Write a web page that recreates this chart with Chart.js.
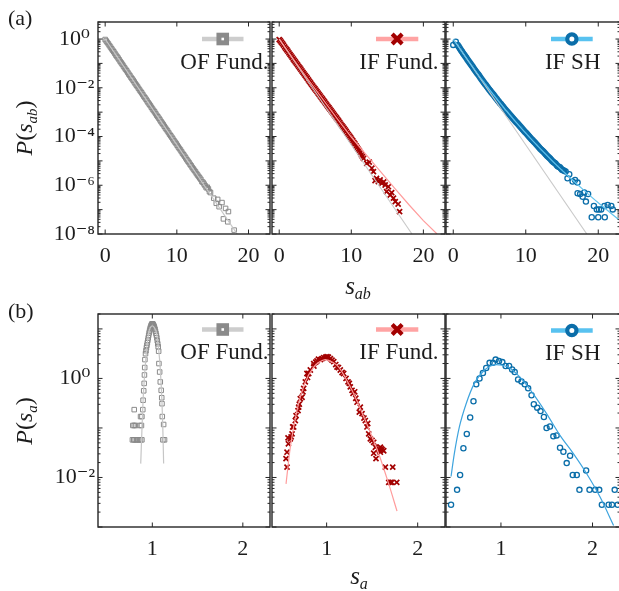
<!DOCTYPE html>
<html>
<head>
<meta charset="utf-8">
<script src="https://cdn.jsdelivr.net/npm/chart.js@4.4.1/dist/chart.umd.min.js"></script>
<style>
html, body { margin: 0; padding: 0; background: #ffffff; overflow: hidden; }
#wrap { position: relative; width: 619px; height: 591px; overflow: hidden; background: #fff; }
#wrap canvas { position: absolute; left: 0; top: 0; }
</style>
</head>
<body>
<div id="wrap">
  <canvas id="a1" width="640" height="591"></canvas>
  <canvas id="a2" width="640" height="591"></canvas>
  <canvas id="a3" width="640" height="591"></canvas>
  <canvas id="b1" width="640" height="591"></canvas>
  <canvas id="b2" width="640" height="591"></canvas>
  <canvas id="b3" width="640" height="591"></canvas>
</div>
<script>
// ===================== DATA (probabilities stored as log10 P) =====================
const seriesNames = ['OF Fund.', 'IF Fund.', 'IF SH'];

// (a) tick marks / labels
const abXTicks = [0, 10, 20];
const abYTicks = [1e-8, 1e-6, 1e-4, 1e-2, 1];
const abYTickLabels = ['10⁻⁸', '10⁻⁶', '10⁻⁴', '10⁻²', '10⁰'];
// (b) tick marks / labels
const aXTicks = [1, 2];
const aYTicks = [1e-2, 1];
const aYTickLabels = ['10⁻²', '10⁰'];

// (a) reference exponential (light grey line)
const refS = [0, 18.42];
const refLogP = [0, -8];

// (a) OF Fund. points
const ofAbS = [0.00,0.15,0.30,0.45,0.60,0.75,0.90,1.05,1.20,1.35,1.50,1.65,1.80,1.95,2.10,2.25,2.40,2.55,2.70,2.85,
  3.00,3.15,3.30,3.45,3.60,3.75,3.90,4.05,4.20,4.35,4.50,4.65,4.80,4.95,5.10,5.25,5.40,5.55,5.70,5.85,
  6.00,6.15,6.30,6.45,6.60,6.75,6.90,7.05,7.20,7.35,7.50,7.65,7.80,7.95,8.10,8.25,8.40,8.55,8.70,8.85,
  9.00,9.15,9.30,9.45,9.60,9.75,9.90,10.05,10.20,10.35,10.50,10.65,10.80,10.95,11.10,11.25,11.40,11.55,11.70,11.85,
  12.00,12.15,12.30,12.45,12.60,12.75,12.90,13.05,13.20,13.35,13.50,13.65,13.80,13.95,14.10,14.25,14.40,14.55,14.70,
  15.15,15.5,15.7,15.9,16.3,16.5,16.8,17.1,17.2,18.0];
const ofAbLogP = [-0.02,-0.08,-0.14,-0.20,-0.27,-0.33,-0.40,-0.46,-0.52,-0.59,-0.66,-0.72,-0.78,-0.85,-0.92,-0.98,-1.04,-1.11,-1.18,-1.24,
  -1.30,-1.37,-1.44,-1.50,-1.57,-1.63,-1.69,-1.76,-1.83,-1.89,-1.95,-2.02,-2.09,-2.15,-2.21,-2.28,-2.35,-2.41,-2.47,-2.54,
  -2.61,-2.67,-2.73,-2.80,-2.87,-2.93,-2.99,-3.06,-3.13,-3.19,-3.25,-3.32,-3.39,-3.45,-3.51,-3.58,-3.65,-3.71,-3.77,-3.84,
  -3.91,-3.97,-4.03,-4.10,-4.17,-4.23,-4.29,-4.36,-4.43,-4.49,-4.55,-4.62,-4.69,-4.75,-4.81,-4.88,-4.95,-5.01,-5.07,-5.14,
  -5.20,-5.27,-5.33,-5.39,-5.45,-5.52,-5.58,-5.64,-5.70,-5.76,-5.85,-5.88,-5.95,-6.02,-6.10,-6.08,-6.15,-6.26,-6.30,
  -6.53,-6.74,-6.58,-6.88,-6.71,-7.38,-6.95,-7.50,-7.08,-7.84];

// (a) IF Fund. points and fit
const ifAbS = [0.00,0.15,0.30,0.45,0.60,0.75,0.90,1.05,1.20,1.35,1.50,1.65,1.80,1.95,2.10,2.25,2.40,2.55,2.70,2.85,
  3.00,3.15,3.30,3.45,3.60,3.75,3.90,4.05,4.20,4.35,4.50,4.65,4.80,4.95,5.10,5.25,5.40,5.55,5.70,5.85,
  6.00,6.15,6.30,6.45,6.60,6.75,6.90,7.05,7.20,7.35,7.50,7.65,7.80,7.95,8.10,8.25,8.40,8.55,8.70,8.85,
  9.00,9.15,9.30,9.45,9.60,9.75,9.90,10.05,10.20,10.35,10.50,10.65,10.80,10.95,11.10,11.25,11.40,11.55,11.70,
  12.15,12.5,12.85,13.07,13.3,13.5,13.76,14.0,14.23,14.5,
  14.7,14.9,15.15,15.4,15.6,15.85,16.1,16.5,16.7];
const ifAbLogP = [-0.02,-0.07,-0.13,-0.19,-0.25,-0.32,-0.38,-0.44,-0.50,-0.57,-0.63,-0.69,-0.75,-0.82,-0.88,-0.94,-1.00,-1.06,-1.12,-1.18,
  -1.24,-1.31,-1.37,-1.43,-1.49,-1.55,-1.61,-1.68,-1.74,-1.80,-1.86,-1.92,-1.98,-2.04,-2.10,-2.16,-2.22,-2.28,-2.34,-2.40,
  -2.46,-2.52,-2.58,-2.64,-2.70,-2.76,-2.82,-2.88,-2.94,-3.00,-3.06,-3.12,-3.18,-3.24,-3.30,-3.36,-3.42,-3.49,-3.55,-3.61,
  -3.67,-3.73,-3.79,-3.86,-3.92,-3.98,-4.04,-4.11,-4.17,-4.24,-4.30,-4.38,-4.45,-4.52,-4.58,-4.66,-4.75,-4.82,-4.90,
  -5.10,-5.05,-5.30,-5.44,-5.81,-5.72,-5.85,-5.78,-5.92,-5.86,
  -5.99,-6.26,-6.06,-6.40,-6.30,-6.53,-6.67,-6.77,-7.08];
const ifAbFitS = [0,2,4,6,8,10,12,14,16,18,20,21.9];
const ifAbFitLogP = [0,-0.84,-1.66,-2.45,-3.25,-4.02,-4.72,-5.42,-6.12,-6.80,-7.45,-8.0];

// (a) IF SH points and fit
const shAbS = [0.0,0.35,
  0.60,0.75,0.90,1.05,1.20,1.35,1.50,1.65,1.80,1.95,2.10,2.25,2.40,2.55,2.70,2.85,3.00,3.15,3.30,3.45,
  3.60,3.75,3.90,4.05,4.20,4.35,4.50,4.65,4.80,4.95,5.10,5.25,5.40,5.55,5.70,5.85,6.00,6.15,6.30,6.45,
  6.60,6.75,6.90,7.05,7.20,7.35,7.50,7.65,7.80,7.95,8.10,8.25,8.40,8.55,8.70,8.85,9.00,9.15,9.30,9.45,
  9.60,9.75,9.90,10.05,10.20,10.35,10.50,10.65,10.80,10.95,11.10,11.25,11.40,11.55,11.70,11.85,12.00,12.15,12.30,12.45,
  12.60,12.75,12.90,13.05,13.20,13.35,13.50,13.65,13.80,13.95,14.10,14.25,14.40,14.55,14.70,14.85,15.00,15.15,15.30,
  15.5,15.76,16.0,16.46,16.8,17.15,
  17.15,17.5,17.85,18.07,18.3,18.6,19.1,19.4,19.8,20.0,20.1,20.4,20.85,20.9,21.3,21.8,22.0];
const shAbLogP = [-0.24,-0.11,
  -0.24,-0.31,-0.38,-0.45,-0.51,-0.58,-0.64,-0.71,-0.77,-0.84,-0.90,-0.96,-1.02,-1.09,-1.15,-1.22,-1.28,-1.34,-1.40,-1.46,
  -1.52,-1.59,-1.65,-1.71,-1.77,-1.83,-1.89,-1.95,-2.01,-2.07,-2.12,-2.18,-2.23,-2.29,-2.35,-2.41,-2.46,-2.52,-2.57,-2.63,
  -2.68,-2.74,-2.79,-2.85,-2.90,-2.95,-3.00,-3.06,-3.11,-3.16,-3.21,-3.26,-3.31,-3.36,-3.41,-3.46,-3.51,-3.56,-3.61,-3.66,
  -3.71,-3.76,-3.81,-3.86,-3.91,-3.96,-4.01,-4.06,-4.11,-4.15,-4.20,-4.25,-4.30,-4.35,-4.40,-4.45,-4.50,-4.54,-4.58,-4.63,
  -4.68,-4.73,-4.78,-4.82,-4.86,-4.90,-4.95,-5.00,-5.05,-5.08,-5.11,-5.17,-5.22,-5.24,-5.26,-5.31,-5.36,-5.38,-5.40,
  -5.44,-5.71,-5.55,-5.85,-5.78,-5.89,
  -6.33,-6.36,-6.47,-6.30,-6.67,-6.36,-7.31,-6.85,-6.99,-7.31,-6.99,-6.99,-6.85,-7.31,-6.81,-6.85,-6.99];
const shAbFitS = [0,1,2,3,4,5,6,7,8,10,12,14,16,18,20,23];
const shAbFitLogP = [0,-0.43,-0.86,-1.28,-1.69,-2.08,-2.46,-2.83,-3.18,-3.86,-4.50,-5.10,-5.66,-6.20,-6.72,-7.45];

// (b) OF Fund. points and fit
const ofAS = [0.780,0.795,0.810,0.825,0.840,0.855,0.870,0.885,
  0.785,0.800,0.815,0.865,0.880,
  0.800,0.895,0.870,0.885,
  0.898,0.905,0.910,0.913,0.916,0.918,
  0.925,0.930,0.935,0.940,0.945,0.950,0.955,0.960,0.965,0.970,
  0.975,0.980,0.985,0.990,0.995,1.000,1.005,1.010,1.015,1.020,
  1.025,1.030,1.035,1.040,1.045,1.050,1.055,1.060,1.065,1.070,
  1.073,1.081,1.088,1.098,1.104,1.107,1.110,1.125,1.117,1.135];
const ofALogP = [-1.24,-1.24,-1.24,-1.24,-1.24,-1.24,-1.24,-1.24,
  -0.95,-0.95,-0.95,-0.95,-0.95,
  -0.63,-0.63,-0.77,-0.77,
  -0.44,-0.25,-0.10,0.07,0.22,0.38,
  0.50,0.56,0.62,0.67,0.72,0.77,0.82,0.87,0.92,0.96,
  1.00,1.03,1.06,1.08,1.10,1.10,1.10,1.09,1.07,1.05,
  1.02,0.99,0.95,0.91,0.87,0.82,0.76,0.70,0.64,0.55,
  0.30,0.13,-0.07,-0.24,-0.39,-0.51,-0.77,-0.93,-1.24,-1.24];
const ofAFitS = [0.872,0.885,0.898,0.912,0.927,0.945,0.963,0.980,1.000,1.020,1.045,1.063,1.081,1.094,1.106,1.116,1.125];
const ofAFitLogP = [-1.72,-1.05,-0.44,0.00,0.37,0.72,0.95,1.03,1.06,1.03,0.93,0.70,0.37,0.00,-0.44,-1.00,-1.72];

// (b) IF Fund. points and fit
const ifAS = [0.554,0.565,0.565,0.576,0.601,0.620,0.627,0.638,0.656,0.664,
  0.686,0.693,0.711,0.730,0.748,0.766,0.784,0.803,0.821,0.858,
  0.894,0.931,0.949,0.968,1.004,1.041,1.059,1.078,1.114,1.150,
  1.187,1.213,1.235,1.249,1.279,1.308,1.334,1.359,1.370,1.389,
  1.425,1.443,1.451,1.462,1.480,1.498,1.517,1.517,1.535,1.542,
  1.572,1.590,1.590,1.627,1.645,1.682,1.700,1.715,1.726,1.770,
  0.860,0.880,0.910,0.990,1.020,1.100,1.130,1.170,1.260,1.290,
  1.320,1.410,1.600,1.610,1.580,0.580,0.610,0.700,0.740,0.790];
const ifALogP = [-1.62,-1.79,-1.49,-1.20,-1.22,-1.12,-0.98,-0.98,-0.85,-0.75,
  -0.65,-0.58,-0.41,-0.38,-0.20,-0.07,0.10,0.10,0.17,0.30,
  0.355,0.38,0.40,0.42,0.44,0.40,0.37,0.34,0.23,0.17,
  0.10,0.00,-0.07,-0.10,-0.24,-0.27,-0.48,-0.68,-0.58,-0.71,
  -0.85,-0.98,-0.91,-1.12,-1.22,-1.25,-1.29,-1.51,-1.39,-1.62,
  -1.42,-1.39,-1.49,-1.46,-1.79,-2.10,-2.10,-2.10,-1.79,-2.10,
  0.25,0.33,0.39,0.43,0.43,0.28,0.22,0.12,-0.17,-0.30,
  -0.40,-0.80,-1.42,-1.44,-1.46,-1.32,-1.18,-0.52,-0.27,0.02];
const ifAFitS = [0.554,0.601,0.675,0.766,0.858,0.920,0.986,1.060,1.133,1.279,1.425,1.572,1.682,1.773];
const ifAFitLogP = [-2.13,-1.39,-0.64,-0.07,0.23,0.33,0.38,0.33,0.23,-0.24,-0.85,-1.52,-2.13,-2.68];

// (b) IF SH points and fit
const shAS = [0.455,0.521,0.554,0.590,0.627,0.664,0.700,0.730,0.766,0.803,
  0.839,0.876,0.913,0.942,0.979,1.015,1.051,1.089,1.122,1.150,
  1.187,1.224,1.260,1.297,1.334,1.359,1.396,1.432,1.469,1.498,
  1.535,1.572,1.608,1.645,1.682,1.718,1.755,1.784,1.828,1.857,
  1.930,1.967,2.029,2.073,2.102,2.176,2.212,2.242,2.275];
const shALogP = [-2.55,-2.25,-1.95,-1.41,-1.12,-0.79,-0.46,-0.12,0.00,0.11,
  0.21,0.315,0.315,0.38,0.35,0.33,0.25,0.25,0.18,0.13,
  -0.02,-0.06,-0.12,-0.20,-0.34,-0.52,-0.59,-0.66,-0.78,-1.00,
  -0.97,-1.17,-1.15,-1.40,-1.48,-1.71,-1.56,-1.95,-1.95,-2.25,
  -1.86,-2.25,-2.25,-2.25,-2.55,-2.55,-2.55,-2.25,-2.55];
const shAFitS = [0.455,0.491,0.546,0.620,0.710,0.821,0.949,1.077,1.205,1.352,1.498,1.645,1.791,1.938,2.084,2.230];
const shAFitLogP = [-1.98,-1.52,-0.98,-0.51,-0.10,0.17,0.28,0.23,0.03,-0.31,-0.71,-1.15,-1.52,-1.93,-2.40,-2.97];

// ===================== STYLE / LAYOUT =====================
const W = 640, H = 591;
const FONT = "'Liberation Serif', 'DejaVu Serif', serif";
const TEXT = '#1c1c1c';
const AXIS = '#262626';
const COLS = [[98, 270], [272, 445], [446, 620]];
const ROW_A = { top: 22, bottom: 234, x: [-1, 23], y: [1e-8, 5] };
const ROW_B = { top: 314, bottom: 527, x: [0.4, 2.3], y: [1e-3, 20] };

const C = {
  ofPt: '#8a8a8a', ofLine: '#c6c6c6', ofLeg: '#cdcdcd',
  ifPt: '#a30000', ifLine: '#ff9c9c', ifLeg: '#ffa3a3',
  shPt: '#0b6ea9', shLineA: '#63c4ee', shLineB: '#3ea4de', shLeg: '#58c2f0',
  ref: '#c9c9c9'
};

const toPts = (xs, ls) => xs.map((x, i) => ({ x: x, y: Math.pow(10, ls[i]) }));

function lineDS(xs, ls, color, width, smooth) {
  return { data: toPts(xs, ls), showLine: true, borderColor: color, borderWidth: width,
    pointRadius: 0, fill: false, cubicInterpolationMode: smooth ? 'monotone' : 'default' };
}
function markDS(xs, ls, kind) {
  const base = { data: toPts(xs, ls), showLine: false, backgroundColor: 'rgba(0,0,0,0)' };
  if (kind === 'of') return Object.assign(base, { pointStyle: 'rect', pointRadius: 3.2, borderColor: C.ofPt, borderWidth: 1 });
  if (kind === 'if') return Object.assign(base, { pointStyle: 'crossRot', pointRadius: 3.6, borderColor: C.ifPt, borderWidth: 1.7 });
  return Object.assign(base, { pointStyle: 'circle', pointRadius: 2.6, borderColor: C.shPt, borderWidth: 1.3 });
}

function drawRich(ctx, parts, x, y, size, align, rotate) {
  ctx.save();
  ctx.translate(x, y);
  if (rotate) ctx.rotate(-Math.PI / 2);
  const fontFor = p => (p[1] ? 'italic ' : '') + (p[2] ? Math.round(size * 0.64) : size) + 'px ' + FONT;
  let w = 0;
  for (const p of parts) { ctx.font = fontFor(p); w += ctx.measureText(p[0]).width; }
  let cx = align === 'center' ? -w / 2 : 0;
  ctx.fillStyle = TEXT; ctx.textBaseline = 'alphabetic'; ctx.textAlign = 'left';
  for (const p of parts) {
    ctx.font = fontFor(p);
    ctx.fillText(p[0], cx, p[2] ? size * 0.2 : 0);
    cx += ctx.measureText(p[0]).width;
  }
  ctx.restore();
}

function legendSymbol(ctx, L) {
  ctx.save();
  ctx.lineCap = 'butt';
  ctx.strokeStyle = L.line; ctx.lineWidth = 4.5;
  ctx.beginPath(); ctx.moveTo(L.x1, L.y); ctx.lineTo(L.x2, L.y); ctx.stroke();
  const cx = (L.x1 + L.x2) / 2, cy = L.y;
  ctx.strokeStyle = L.mark; ctx.fillStyle = '#ffffff';
  if (L.kind === 'of') {
    ctx.lineWidth = 5; ctx.fillRect(cx - 4, cy - 4, 8, 8); ctx.strokeRect(cx - 3.8, cy - 3.8, 7.6, 7.6);
  } else if (L.kind === 'if') {
    ctx.lineWidth = 4.2; ctx.beginPath();
    ctx.moveTo(cx - 5, cy - 5); ctx.lineTo(cx + 5, cy + 5);
    ctx.moveTo(cx + 5, cy - 5); ctx.lineTo(cx - 5, cy + 5); ctx.stroke();
  } else {
    ctx.lineWidth = 4.2; ctx.beginPath(); ctx.arc(cx, cy, 4.6, 0, Math.PI * 2); ctx.fill(); ctx.stroke();
  }
  ctx.font = '23px ' + FONT; ctx.fillStyle = TEXT; ctx.textAlign = 'right'; ctx.textBaseline = 'alphabetic';
  ctx.fillText(L.name, L.tx, L.ty);
  ctx.restore();
}

function framePlugin(xt, legend, extra) {
  return {
    id: 'frame',
    afterDraw(chart) {
      const ctx = chart.ctx, a = chart.chartArea, xs = chart.scales.x, ys = chart.scales.y;
      ctx.save();
      ctx.strokeStyle = AXIS; ctx.lineWidth = 1;
      ctx.beginPath();
      for (const v of xt) {
        const px = xs.getPixelForValue(v);
        ctx.moveTo(px, a.bottom); ctx.lineTo(px, a.bottom - 4.5);
        ctx.moveTo(px, a.top); ctx.lineTo(px, a.top + 4.5);
      }
      const lo = Math.floor(Math.log10(ys.min)), hi = Math.ceil(Math.log10(ys.max));
      for (let d = lo; d <= hi; d++) {
        for (let k = 1; k <= 9; k++) {
          const v = k * Math.pow(10, d);
          if (v < ys.min * 0.999 || v > ys.max * 1.001) continue;
          const py = ys.getPixelForValue(v), len = k === 1 ? 4.5 : 2.5;
          ctx.moveTo(a.left, py); ctx.lineTo(a.left + len, py);
          ctx.moveTo(a.right, py); ctx.lineTo(a.right - len, py);
        }
      }
      ctx.stroke();
      ctx.lineWidth = 1.4;
      ctx.strokeRect(a.left, a.top, a.right - a.left, a.bottom - a.top);
      ctx.restore();
      legendSymbol(ctx, legend);
      if (extra) extra(ctx);
    }
  };
}

function makePanel(id, col, row, xt, yt, ytl, showY, datasets, legend, extra) {
  const left = COLS[col][0], right = COLS[col][1];
  return new Chart(document.getElementById(id), {
    type: 'scatter',
    data: { datasets: datasets },
    options: {
      responsive: false, animation: false, events: [],
      layout: { padding: { left: 0, top: row.top, right: W - right, bottom: 0 } },
      plugins: { legend: { display: false }, tooltip: { enabled: false } },
      scales: {
        x: {
          type: 'linear', min: row.x[0], max: row.x[1],
          grid: { display: false }, border: { display: false },
          afterFit: s => { s.height = H - row.bottom; },
          afterBuildTicks: s => { s.ticks = xt.map(v => ({ value: v })); },
          ticks: { autoSkip: false, maxRotation: 0, padding: 1, color: TEXT,
            font: { family: FONT, size: 22 }, callback: v => String(v) }
        },
        y: {
          type: 'logarithmic', min: row.y[0], max: row.y[1],
          grid: { display: false }, border: { display: false },
          afterFit: s => { s.width = left; },
          afterBuildTicks: s => { s.ticks = yt.map(v => ({ value: v })); },
          ticks: { display: showY, autoSkip: false, crossAlign: 'center', padding: -5, color: TEXT,
            font: { family: FONT, size: 22 }, callback: (v, i) => ytl[i] }
        }
      }
    },
    plugins: [framePlugin(xt, legend, extra)]
  });
}

function titles(ctx) {
  drawRich(ctx, [['(a)', false, false]], 8, 25, 22, 'left', false);
  drawRich(ctx, [['(b)', false, false]], 8, 318, 22, 'left', false);
  drawRich(ctx, [['P', true, false], ['(', false, false], ['s', true, false], ['ab', true, true], [')', false, false]], 32, 128, 24, 'center', true);
  drawRich(ctx, [['P', true, false], ['(', false, false], ['s', true, false], ['a', true, true], [')', false, false]], 32, 421, 24, 'center', true);
  drawRich(ctx, [['s', true, false], ['ab', true, true]], 358, 294, 25, 'center', false);
  drawRich(ctx, [['s', true, false], ['a', true, true]], 359, 584, 25, 'center', false);
}

const legA = [
  { kind: 'of', name: seriesNames[0], x1: 202, x2: 243.5, y: 39, line: C.ofLeg, mark: C.ofPt, tx: 268.5, ty: 69 },
  { kind: 'if', name: seriesNames[1], x1: 376, x2: 418.3, y: 39, line: C.ifLeg, mark: C.ifPt, tx: 438.5, ty: 69 },
  { kind: 'sh', name: seriesNames[2], x1: 551, x2: 592.7, y: 39, line: C.shLeg, mark: C.shPt, tx: 600.5, ty: 69 }
];
const legB = [
  { kind: 'of', name: seriesNames[0], x1: 202, x2: 243.5, y: 329.5, line: C.ofLeg, mark: C.ofPt, tx: 268.5, ty: 359 },
  { kind: 'if', name: seriesNames[1], x1: 376, x2: 418.3, y: 329.5, line: C.ifLeg, mark: C.ifPt, tx: 438.5, ty: 359 },
  { kind: 'sh', name: seriesNames[2], x1: 551, x2: 592.7, y: 330.5, line: C.shLeg, mark: C.shPt, tx: 600.5, ty: 360 }
];

// Row (a)
makePanel('a1', 0, ROW_A, abXTicks, abYTicks, abYTickLabels, true,
  [lineDS(refS, refLogP, C.ofLine, 1.2, false), markDS(ofAbS, ofAbLogP, 'of')], legA[0], titles);
makePanel('a2', 1, ROW_A, abXTicks, abYTicks, abYTickLabels, false,
  [lineDS(ifAbFitS, ifAbFitLogP, C.ifLine, 1.2, false), lineDS(refS, refLogP, C.ref, 1.1, false), markDS(ifAbS, ifAbLogP, 'if')], legA[1]);
makePanel('a3', 2, ROW_A, abXTicks, abYTicks, abYTickLabels, false,
  [lineDS(shAbFitS, shAbFitLogP, C.shLineA, 1.2, true), lineDS(refS, refLogP, C.ref, 1.1, false), markDS(shAbS, shAbLogP, 'sh')], legA[2]);
// Row (b)
makePanel('b1', 0, ROW_B, aXTicks, aYTicks, aYTickLabels, true,
  [lineDS(ofAFitS, ofAFitLogP, C.ofLine, 1.2, true), markDS(ofAS, ofALogP, 'of')], legB[0]);
makePanel('b2', 1, ROW_B, aXTicks, aYTicks, aYTickLabels, false,
  [lineDS(ifAFitS, ifAFitLogP, C.ifLine, 1.2, true), markDS(ifAS, ifALogP, 'if')], legB[1]);
makePanel('b3', 2, ROW_B, aXTicks, aYTicks, aYTickLabels, false,
  [lineDS(shAFitS, shAFitLogP, C.shLineB, 1.2, true), markDS(shAS, shALogP, 'sh')], legB[2]);
</script>
</body>
</html>
